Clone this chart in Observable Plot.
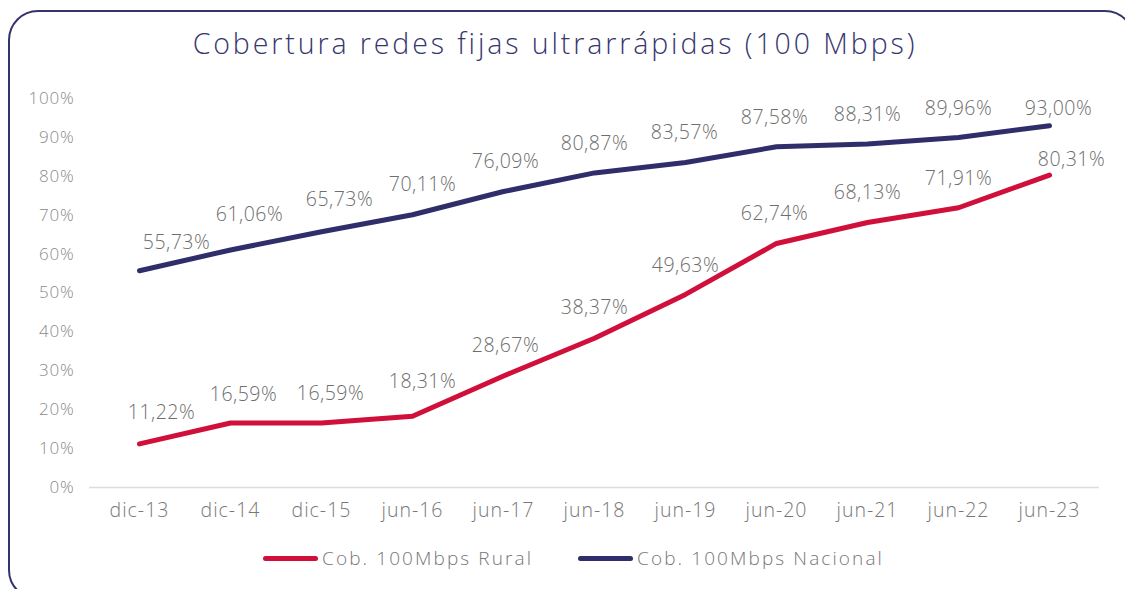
<!DOCTYPE html>
<html>
<head>
<meta charset="utf-8">
<script src="https://cdn.jsdelivr.net/npm/d3@7"></script>
<script src="https://cdn.jsdelivr.net/npm/@observablehq/plot@0.6"></script>
<style>
  html, body { margin: 0; padding: 0; background: #fff; width: 1125px; height: 589px; overflow: hidden; font-family: "Open Sans", Lato, sans-serif; font-weight: 300; }
  #frame { position: absolute; left: 8px; top: 10px; width: 1127px; height: 590px; border: 2px solid #34336b; border-radius: 30px; box-sizing: border-box; }
  #title { position: absolute; left: 0; top: 24px; width: 1110px; text-align: center; font-size: 28.5px; letter-spacing: 2.9px; color: #37366f; font-weight: 300; white-space: nowrap; }
  #chart { position: absolute; left: 0; top: 80px; }
  #legend { position: absolute; top: 545px; left: 0; width: 1125px; height: 26px; }
  .item { position: absolute; top: 0; display: flex; align-items: center; font-size: 19px; letter-spacing: 2.1px; color: #777; height: 26px; white-space: nowrap; font-weight: 300; }
  .sw { display: inline-block; width: 55px; height: 5px; border-radius: 3px; margin-right: 4px; }
  svg text { font-weight: 300; }
</style>
</head>
<body>
<div id="frame"></div>
<div id="title">Cobertura redes fijas ultrarrápidas (100 Mbps)</div>
<div id="chart"></div>
<div id="legend"></div>
<script>
const periods = ["dic-13","dic-14","dic-15","jun-16","jun-17","jun-18","jun-19","jun-20","jun-21","jun-22","jun-23"];
const rural = [11.22, 16.59, 16.59, 18.31, 28.67, 38.37, 49.63, 62.74, 68.13, 71.91, 80.31];
const nacional = [55.73, 61.06, 65.73, 70.11, 76.09, 80.87, 83.57, 87.58, 88.31, 89.96, 93.00];
const yTicks = [0,10,20,30,40,50,60,70,80,90,100];
const seriesNames = ["Cob. 100Mbps Rural", "Cob. 100Mbps Nacional"];
const seriesColors = ["#d0103a", "#2f2e6b"];

// label placement offsets (layout, not data)
const ruralDx = [22, 13, 9, 10, 2, 0, 0, -2, 0, 0, 22];
const ruralDy = [-31, -28, -29, -35, -30, -30, -29, -30, -30, -29, -15];
const nacDx = [37, 19, 18, 10, 2, 0, -1, -2, 0, 0, 9];
const nacDy = [-28, -35, -32, -30, -30, -29, -30, -29, -29, -29, -17];

const rows = [];
periods.forEach((p, i) => {
  rows.push({period: p, value: rural[i], series: seriesNames[0]});
  rows.push({period: p, value: nacional[i], series: seriesNames[1]});
});
const fmt = v => v.toFixed(2).replace(".", ",") + "%";

const lblStyle = {fill: "#6e6e6e", fontSize: 19.5, className: "dlabel"};
const labelMarks = [];
periods.forEach((p, i) => {
  labelMarks.push(Plot.text([{period: p, value: rural[i]}], {x: "period", y: "value", text: d => fmt(d.value), dx: ruralDx[i], dy: ruralDy[i], ...lblStyle}));
  labelMarks.push(Plot.text([{period: p, value: nacional[i]}], {x: "period", y: "value", text: d => fmt(d.value), dx: nacDx[i], dy: nacDy[i], ...lblStyle}));
});

const chart = Plot.plot({
  width: 1125,
  height: 455,
  marginLeft: 89,
  marginRight: 26,
  marginTop: 18,
  marginBottom: 48,
  style: {fontFamily: "'Open Sans', Lato, sans-serif", background: "transparent", overflow: "visible"},
  x: {type: "point", domain: periods, padding: 0.5, label: null},
  y: {domain: [0, 100], label: null},
  color: {domain: seriesNames, range: seriesColors},
  marks: [
    Plot.ruleY([0], {stroke: "#dcdcdc", strokeWidth: 1.5}),
    Plot.axisY({ticks: yTicks, tickSize: 0, tickPadding: 15, tickFormat: d => d + "%", fontSize: 17, color: "#8a8a8a", label: null}),
    Plot.axisX({tickSize: 0, tickPadding: 16, fontSize: 19.5, color: "#777", label: null}),
    Plot.line(rows, {x: "period", y: "value", z: "series", stroke: "series", strokeWidth: 5, strokeLinecap: "round", strokeLinejoin: "round"}),
    ...labelMarks
  ]
});
document.getElementById("chart").appendChild(chart);
chart.querySelectorAll("g[aria-label='x-axis tick label'] text").forEach(t => t.setAttribute("letter-spacing", "1px"));
chart.querySelectorAll("g[aria-label='y-axis tick label'] text").forEach(t => t.setAttribute("letter-spacing", "0.8px"));
chart.querySelectorAll(".dlabel text").forEach(t => t.setAttribute("letter-spacing", "0.5px"));

const legend = document.getElementById("legend");
const lefts = [263, 578];
seriesNames.forEach((n, k) => {
  const it = document.createElement("div");
  it.className = "item";
  it.style.left = lefts[k] + "px";
  const sw = document.createElement("span");
  sw.className = "sw";
  sw.style.background = seriesColors[k];
  it.appendChild(sw);
  it.appendChild(document.createTextNode(n));
  legend.appendChild(it);
});
</script>
</body>
</html>
